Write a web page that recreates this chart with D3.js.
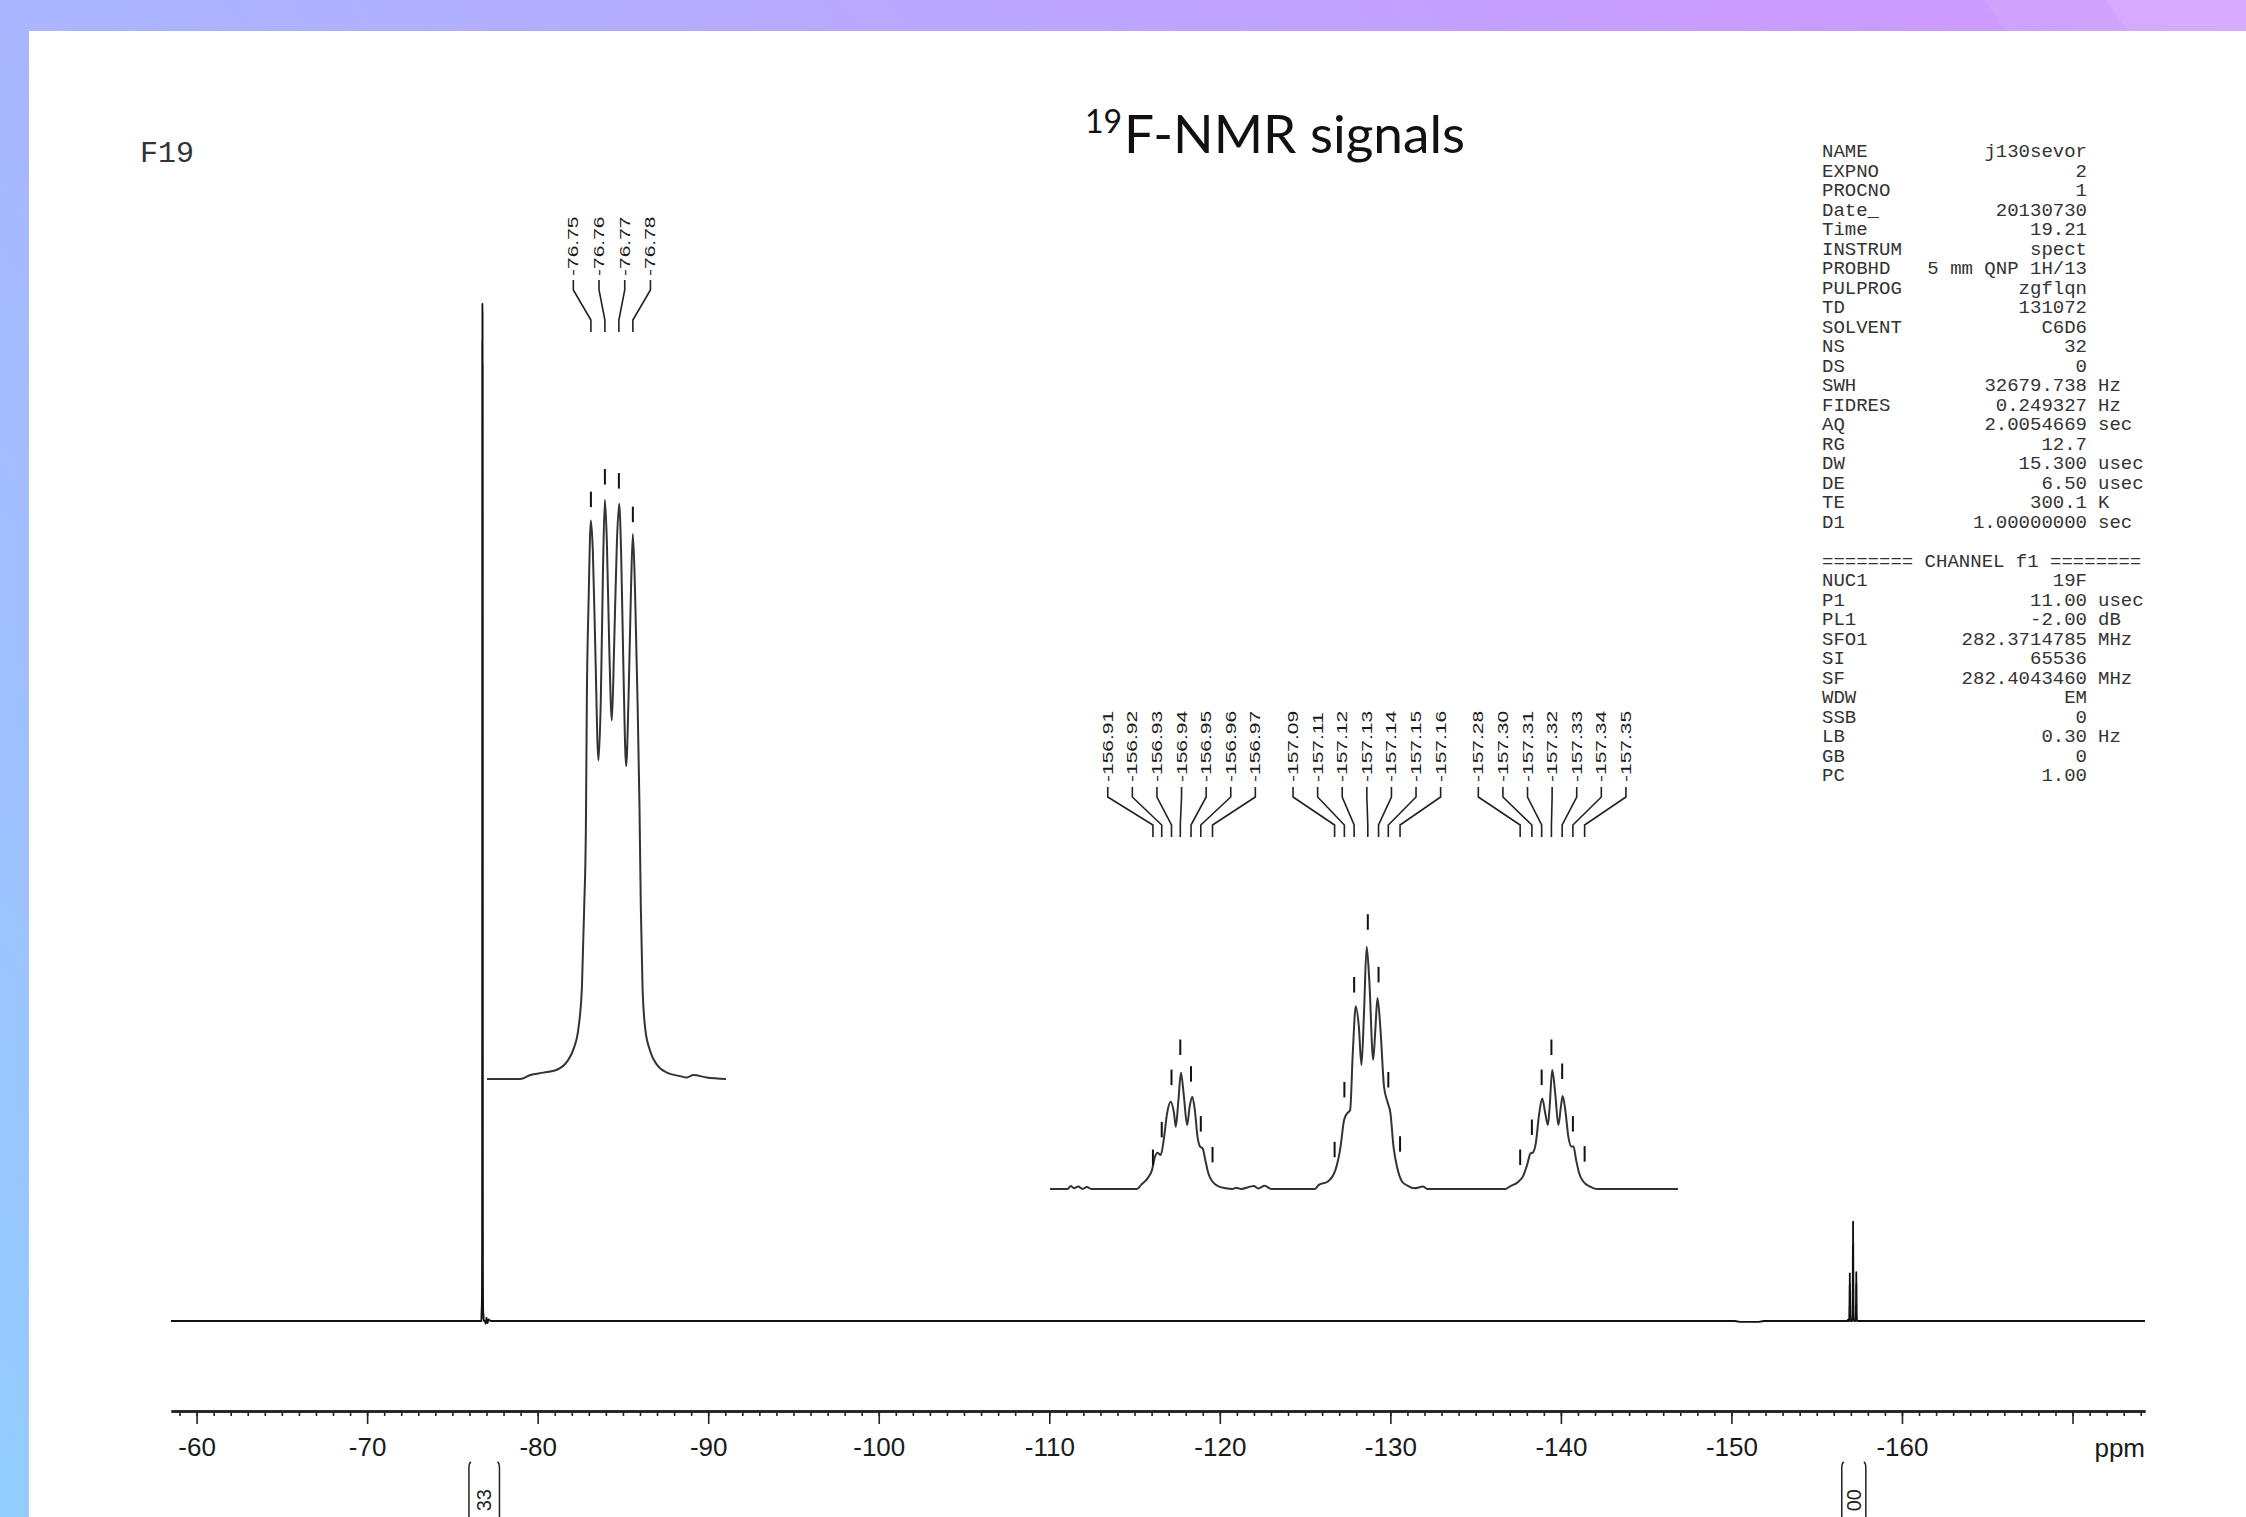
<!DOCTYPE html>
<html><head><meta charset="utf-8">
<script src="https://cdn.jsdelivr.net/npm/d3@7"></script>
<style>html,body{margin:0;padding:0;background:#fff;overflow:hidden} svg{display:block}</style>
</head><body>
<svg id="chart" width="2246" height="1517"></svg>
<script>
// ---------------- DATA ----------------
const titleSup = "19";
const titleMain = "F-NMR signals";
const nucleusLabel = "F19";

const axisMajorTicks = [-60,-70,-80,-90,-100,-110,-120,-130,-140,-150,-160,-170];
const axisTickLabels = ["-60","-70","-80","-90","-100","-110","-120","-130","-140","-150","-160",""];
const axisUnit = "ppm";

// main spectrum baseline (ppm, intensity; main spike = 100)
const mainBaseline = [[-58.5,0],[-76.55,0],[-76.9,0],[-76.95,-0.25],[-77.0,0.3],[-77.06,-0.2],[-77.12,0.15],[-77.25,0],
  [-150.2,0],[-150.5,-0.08],[-151.6,-0.08],[-151.9,0],[-156.7,0],[-157.55,0],[-174.25,0]];

// expansion 1 : CF3 region (ppm, intensity)
const inset1Spectrum = [[-76.6757,0],[-76.6995,0],[-76.7066,0.7],[-76.7161,1.1],[-76.7257,1.6],[-76.7329,3.0],[-76.7376,5.2],
  [-76.7411,8.8],[-76.7436,16.0],[-76.7452,29.6],[-76.7464,43.1],[-76.7471,65.7],[-76.7483,81.9],[-76.7500,96.4],[-76.7514,91.0],
  [-76.7531,74.7],[-76.7554,55.0],[-76.7571,65.7],[-76.7586,87.4],[-76.7600,100],[-76.7614,92.8],[-76.7631,74.7],[-76.7650,61.9],
  [-76.7666,74.7],[-76.7686,92.8],[-76.7702,99.3],[-76.7716,91.0],[-76.7733,70.2],[-76.7752,54.0],[-76.7769,65.7],[-76.7786,83.8],
  [-76.7800,94.1],[-76.7816,83.8],[-76.7833,65.7],[-76.7847,47.6],[-76.7857,29.6],[-76.7869,16.0],[-76.7888,8.8],[-76.7924,4.8],
  [-76.7971,2.5],[-76.8043,1.1],[-76.8138,0.5],[-76.8186,0.25],[-76.8233,0.7],[-76.8329,0.25],[-76.8466,0]];
const inset1PeakPpm = [-76.75,-76.76,-76.77,-76.78];
const inset1PeakHeights = [96.3,100.2,99.5,93.7];
const inset1PeakLabels = ["-76.75","-76.76","-76.77","-76.78"];

// expansion 2 : -157 ppm region (ppm, relative intensity)
const inset2Spectrum = [[-156.8066,0],[-156.8244,0],[-156.8280,1.2],[-156.8311,0.3],[-156.8355,1.0],[-156.8399,0],[-156.8444,0.8],
  [-156.8488,0],[-156.8644,0],[-156.8955,0],[-156.8999,1.7],[-156.9065,4.4],[-156.9110,7.8],[-156.9141,13.3],[-156.9168,15.0],
  [-156.9199,14.0],[-156.9230,20.2],[-156.9265,31.2],[-156.9301,36.0],[-156.9336,31.2],[-156.9354,25.7],[-156.9381,36.7],
  [-156.9407,48.0],[-156.9434,39.5],[-156.9470,26.4],[-156.9496,34.0],[-156.9523,38.1],[-156.9549,32.6],[-156.9576,21.6],
  [-156.9603,17.5],[-156.9629,16.8],[-156.9656,12.0],[-156.9687,6.5],[-156.9731,3.0],[-156.9798,1.0],[-156.9865,0.3],
  [-156.9931,0],[-156.9976,0.5],[-157.0020,0],[-157.0153,1.2],[-157.0198,0.2],[-157.0264,1.3],[-157.0331,0],[-157.0775,0],
  [-157.0819,1.7],[-157.0908,3.0],[-157.0988,7.8],[-157.1041,17.5],[-157.1077,28.5],[-157.1108,31.2],[-157.1139,32.6],
  [-157.1166,56.0],[-157.1197,75.4],[-157.1228,67.1],[-157.1255,51.2],[-157.1281,72.6],[-157.1308,100],[-157.1335,86.3],
  [-157.1375,53.3],[-157.1397,65.7],[-157.1419,78.8],[-157.1450,65.7],[-157.1486,42.2],[-157.1521,36.0],[-157.1552,31.2],
  [-157.1583,17.5],[-157.1619,9.2],[-157.1672,3.0],[-157.1730,1.3],[-157.1796,0.3],[-157.1885,1.0],[-157.1930,0],[-157.2729,0],
  [-157.2773,1.0],[-157.2862,3.0],[-157.2907,5.1],[-157.2951,9.9],[-157.2986,14.7],[-157.3009,15.0],[-157.3040,18.9],
  [-157.3075,31.2],[-157.3106,37.4],[-157.3137,31.2],[-157.3164,26.4],[-157.3182,34.0],[-157.3208,49.1],[-157.3239,39.5],
  [-157.3271,26.4],[-157.3297,34.0],[-157.3315,38.4],[-157.3342,32.6],[-157.3373,21.6],[-157.3404,17.5],[-157.3426,17.5],
  [-157.3453,12.0],[-157.3484,6.5],[-157.3528,3.0],[-157.3595,1.0],[-157.3661,0],[-157.4496,0]];
const inset2ToMain = 0.0976;   // relative intensity of expansion 2 in main-spectrum units

const group1PeakPpm = [-156.912,-156.921,-156.931,-156.940,-156.951,-156.961,-156.973];
const group1Heights = [3.7,15.1,36.7,49.1,38.1,17.5,4.8];
const group1Labels = ["-156.91","-156.92","-156.93","-156.94","-156.95","-156.96","-156.97"];
const group2PeakPpm = [-157.098,-157.108,-157.118,-157.132,-157.143,-157.153,-157.165];
const group2Heights = [6.9,31.6,74.9,100.8,79.1,35.7,9.2];
const group2Labels = ["-157.09","-157.11","-157.12","-157.13","-157.14","-157.15","-157.16"];
const group3PeakPpm = [-157.288,-157.300,-157.310,-157.320,-157.331,-157.342,-157.354];
const group3Heights = [3.7,16.1,36.7,49.1,39.2,17.5,5.1];
const group3Labels = ["-157.28","-157.30","-157.31","-157.32","-157.33","-157.34","-157.35"];

const integralRegions = [[-75.97,-77.76],[-156.47,-157.88]];
const integralValues = ["33","00"];   // visible part of the integral values at the page edge

const acqNames  = ["NAME","EXPNO","PROCNO","Date_","Time","INSTRUM","PROBHD","PULPROG","TD","SOLVENT","NS","DS","SWH","FIDRES","AQ","RG","DW","DE","TE","D1"];
const acqValues = ["j130sevor","2","1","20130730","19.21","spect","5 mm QNP 1H/13","zgflqn","131072","C6D6","32","0","32679.738","0.249327","2.0054669","12.7","15.300","6.50","300.1","1.00000000"];
const acqUnits  = ["","","","","","","","","","","","","Hz","Hz","sec","","usec","usec","K","sec"];
const channelHeader = "======== CHANNEL f1 ========";
const chNames  = ["NUC1","P1","PL1","SFO1","SI","SF","WDW","SSB","LB","GB","PC"];
const chValues = ["19F","11.00","-2.00","282.3714785","65536","282.4043460","EM","0","0.30","0","1.00"];
const chUnits  = ["","usec","dB","MHz","","MHz","","","Hz","",""];

// ---------------- DRAWING ----------------
const W = 2246, H = 1517;
const svg = d3.select("#chart");
const defs = svg.append("defs");
const grad = defs.append("linearGradient").attr("id","bg").attr("gradientUnits","userSpaceOnUse")
  .attr("x1",0).attr("y1",H).attr("x2",W).attr("y2",0);
[[0,"#93cdff"],[0.31,"#a9b6ff"],[0.88,"#cb9afe"],[1,"#d09eff"]].forEach(([o,c]) =>
  grad.append("stop").attr("offset",o).attr("stop-color",c));
svg.append("rect").attr("width",W).attr("height",H).attr("fill","url(#bg)");
svg.append("polygon").attr("points","1984,0 2106,0 2128,31 2006,31").attr("fill","#fff").attr("opacity",0.07);
svg.append("polygon").attr("points","2106,0 2246,0 2246,31 2128,31").attr("fill","#fff").attr("opacity",0.14);
svg.append("rect").attr("x",29).attr("y",31).attr("width",W-29).attr("height",H-31).attr("fill","#fff");

// title
svg.append("text").attr("x",1085).attr("y",133).style("font-family","Lato, 'Open Sans', sans-serif")
  .style("font-size","32px").attr("fill","#111").text(titleSup);
svg.append("text").attr("x",1124).attr("y",153).style("font-family","Lato, 'Open Sans', sans-serif")
  .style("font-size","52px").attr("fill","#111").attr("textLength",341).attr("lengthAdjust","spacingAndGlyphs").text(titleMain);

// nucleus label
svg.append("text").attr("x",140).attr("y",162).style("font-family","'Liberation Mono', monospace")
  .style("font-size","30px").attr("fill","#333").text(nucleusLabel);

// parameter block
const pg = svg.append("g").style("font-family","'Liberation Mono', monospace").style("font-size","19px").attr("fill","#333");
const rowY = i => 157 + 19.5*i;
function paramRows(names, values, units, offset) {
  names.forEach((n,i) => {
    const y = rowY(i+offset);
    pg.append("text").attr("x",1822).attr("y",y).text(n);
    pg.append("text").attr("x",2087).attr("y",y).attr("text-anchor","end").style("white-space","pre").text(values[i]);
    if (units[i]) pg.append("text").attr("x",2098).attr("y",y).text(units[i]);
  });
}
paramRows(acqNames, acqValues, acqUnits, 0);
pg.append("text").attr("x",1822).attr("y",rowY(21)).style("white-space","pre").text(channelHeader);
paramRows(chNames, chValues, chUnits, 22);

// main scales
const x = d3.scaleLinear().domain([-58.5,-174.25]).range([171,2145]);
const yMain = d3.scaleLinear().domain([0,100]).range([1321,304]);

// axis
const axisY = 1411;
const minorAxis = d3.axisBottom(x).tickValues(d3.range(-59,-175,-1)).tickSize(5).tickSizeOuter(0).tickFormat("");
const majorAxis = d3.axisBottom(x).tickValues(axisMajorTicks).tickSize(13).tickSizeOuter(0).tickPadding(14)
  .tickFormat((d,i) => axisTickLabels[i]);
const gMinor = svg.append("g").attr("transform",`translate(0,${axisY})`).call(minorAxis);
const gMajor = svg.append("g").attr("transform",`translate(0,${axisY})`).call(majorAxis);
[gMinor,gMajor].forEach(g => {
  g.select(".domain").attr("stroke","#222").attr("stroke-width",2.5);
  g.selectAll(".tick line").attr("stroke","#222").attr("stroke-width",1.6);
});
gMajor.selectAll(".tick text").style("font-family","'Liberation Sans', Arial, sans-serif").style("font-size","26px").attr("fill","#1a1a1a");
svg.append("text").attr("x",2145).attr("y",axisY+45.5).attr("text-anchor","end")
  .style("font-family","'Liberation Sans', Arial, sans-serif").style("font-size","26px").attr("fill","#1a1a1a").text(axisUnit);

// main spectrum
const mainData = mainBaseline.concat(inset1Spectrum, inset2Spectrum.map(([p,v]) => [p, v*inset2ToMain]))
  .sort((a,b) => b[0]-a[0]);
svg.append("path").datum(mainData)
  .attr("d", d3.line().x(d => x(d[0])).y(d => yMain(d[1])))
  .attr("fill","none").attr("stroke","#111").attr("stroke-width",1.8).attr("stroke-linejoin","round");

// integrals
const ig = svg.append("g");
integralRegions.forEach((r,i) => {
  const x1 = x(r[0]), x2 = x(r[1]);
  ig.append("path").attr("d",`M${x1},${H} V1468 Q${x1},1463 ${x1+2},1462`).attr("fill","none").attr("stroke","#222").attr("stroke-width",1.5);
  ig.append("path").attr("d",`M${x2},${H} V1468 Q${x2},1463 ${x2-2},1462`).attr("fill","none").attr("stroke","#222").attr("stroke-width",1.5);
  ig.append("text").attr("transform",`translate(${(x1+x2)/2},1489) rotate(-90)`).attr("text-anchor","end").attr("dy","0.35em")
    .style("font-family","'Liberation Sans', Arial, sans-serif").style("font-size","20px").attr("fill","#222").text(integralValues[i]);
});

// expansions
const curve = d3.curveMonotoneX;
function drawExpansion(data, xs, ys, color) {
  svg.append("path").datum(data)
    .attr("d", d3.line().curve(curve).x(d => xs(d[0])).y(d => ys(d[1])))
    .attr("fill","none").attr("stroke",color).attr("stroke-width",2).attr("stroke-linejoin","round");
}
function drawPeakGroup(ppms, heights, labels, xs, ys, o) {
  const g = svg.append("g");
  const px = ppms.map(p => xs(p));
  const center = d3.mean(px);
  const n = ppms.length;
  ppms.forEach((p,i) => {
    const lx = center + (i-(n-1)/2)*o.spacing;
    const py = ys(heights[i]);
    g.append("line").attr("x1",px[i]).attr("x2",px[i]).attr("y1",py-o.gap).attr("y2",py-o.gap-15.5)
      .attr("stroke","#111").attr("stroke-width",2);
    g.append("path").attr("d",`M${lx},${o.l0} V${o.l1} L${px[i]},${o.l2} V${o.l3}`)
      .attr("fill","none").attr("stroke","#222").attr("stroke-width",1.6);
    g.append("text").attr("transform",`translate(${lx},${o.textBottom}) rotate(-90) scale(1,0.68)`)
      .attr("dy","0.35em").style("font-family","'Liberation Sans', Arial, sans-serif").style("font-size","21px")
      .attr("fill","#1a1a1a").text(labels[i]);
  });
}

// expansion 1
const xI1 = d3.scaleLinear().domain([inset1Spectrum[0][0], inset1Spectrum[inset1Spectrum.length-1][0]]).range([487,726]);
const yI1 = d3.scaleLinear().domain([0,100]).range([1079,499.7]);
drawExpansion(inset1Spectrum, xI1, yI1, "#333");
drawPeakGroup(inset1PeakPpm, inset1PeakHeights, inset1PeakLabels, xI1, yI1,
  {spacing:25.7, gap:14, l0:280, l1:290, l2:320, l3:332, textBottom:276});

// expansion 2
const xI2 = d3.scaleLinear().domain([inset2Spectrum[0][0], inset2Spectrum[inset2Spectrum.length-1][0]]).range([1050,1678]);
const yI2 = d3.scaleLinear().domain([0,100]).range([1189,946.7]);
drawExpansion(inset2Spectrum, xI2, yI2, "#333");
const o2 = {spacing:24.6, gap:15, l0:787, l1:797, l2:825, l3:837, textBottom:782};
drawPeakGroup(group1PeakPpm, group1Heights, group1Labels, xI2, yI2, o2);
drawPeakGroup(group2PeakPpm, group2Heights, group2Labels, xI2, yI2, o2);
drawPeakGroup(group3PeakPpm, group3Heights, group3Labels, xI2, yI2, o2);
</script>
</body></html>
